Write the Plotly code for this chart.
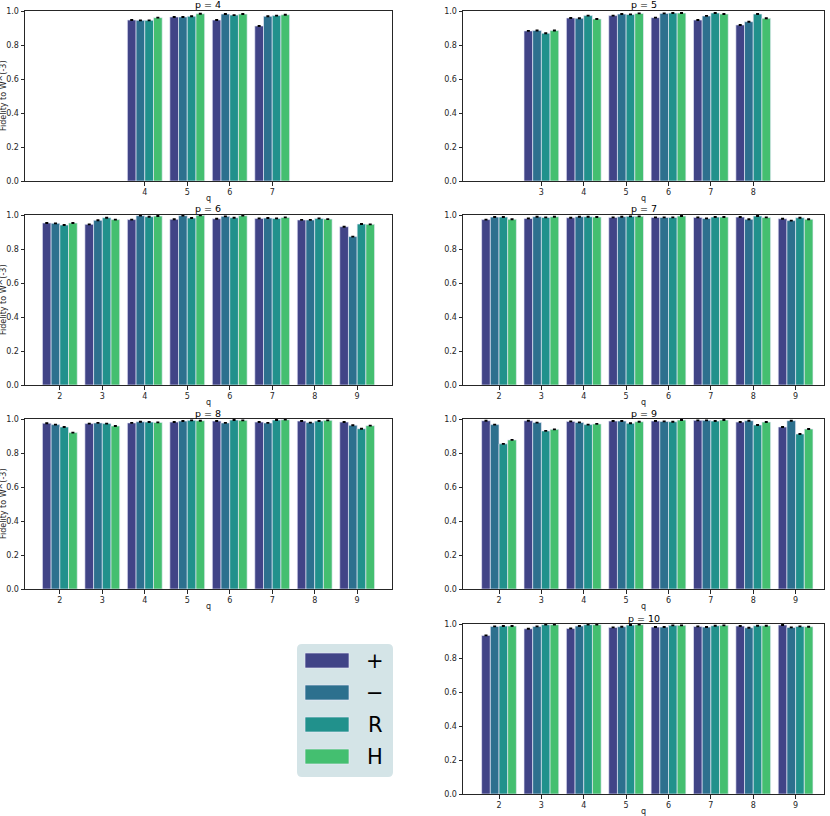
import plotly.graph_objects as go

W, H = 830, 816

# series (state prep) and colours
series = ['+', '−', 'R', 'H']
colors = ['#414487', '#2d708e', '#21918c', '#44bf70']
err = 0.002

# fidelity per panel, one list per series, values over q
q_p4 = [4, 5, 6, 7]
fid_p4 = [[0.947, 0.965, 0.947, 0.912],
          [0.945, 0.965, 0.982, 0.969],
          [0.945, 0.969, 0.976, 0.973],
          [0.961, 0.984, 0.982, 0.978]]

q_p5 = [3, 4, 5, 6, 7, 8]
fid_p5 = [[0.883, 0.959, 0.973, 0.961, 0.947, 0.918],
          [0.885, 0.957, 0.982, 0.986, 0.971, 0.937],
          [0.869, 0.973, 0.980, 0.988, 0.988, 0.982],
          [0.885, 0.953, 0.986, 0.988, 0.982, 0.957]]

q_all = [2, 3, 4, 5, 6, 7, 8, 9]
fid_p6 = [[0.953, 0.945, 0.973, 0.975, 0.978, 0.980, 0.971, 0.931],
          [0.951, 0.969, 0.996, 0.996, 0.992, 0.982, 0.971, 0.873],
          [0.941, 0.984, 0.990, 0.982, 0.984, 0.980, 0.980, 0.947],
          [0.953, 0.973, 0.994, 0.998, 0.996, 0.986, 0.976, 0.945]]

fid_p7 = [[0.973, 0.980, 0.984, 0.986, 0.986, 0.986, 0.988, 0.978],
          [0.988, 0.990, 0.990, 0.990, 0.986, 0.980, 0.975, 0.967],
          [0.988, 0.986, 0.990, 0.992, 0.986, 0.988, 0.994, 0.984],
          [0.975, 0.990, 0.988, 0.992, 0.994, 0.988, 0.986, 0.975]]

fid_p8 = [[0.975, 0.973, 0.977, 0.982, 0.988, 0.982, 0.988, 0.982],
          [0.967, 0.977, 0.984, 0.988, 0.977, 0.977, 0.979, 0.963],
          [0.953, 0.973, 0.982, 0.992, 0.994, 0.994, 0.988, 0.943],
          [0.920, 0.959, 0.980, 0.990, 0.992, 0.996, 0.992, 0.961]]

fid_p9 = [[0.990, 0.990, 0.986, 0.988, 0.988, 0.992, 0.982, 0.953],
          [0.967, 0.979, 0.980, 0.988, 0.986, 0.992, 0.990, 0.990],
          [0.854, 0.930, 0.967, 0.975, 0.984, 0.988, 0.965, 0.912],
          [0.877, 0.939, 0.971, 0.984, 0.994, 0.994, 0.982, 0.941]]

fid_p10 = [[0.933, 0.972, 0.974, 0.980, 0.982, 0.986, 0.988, 0.994],
           [0.986, 0.986, 0.988, 0.984, 0.982, 0.982, 0.978, 0.980],
           [0.988, 0.996, 0.996, 0.994, 0.992, 0.990, 0.990, 0.986],
           [0.988, 0.996, 0.996, 0.996, 0.992, 0.992, 0.990, 0.984]]

# (p, q values, data, column, row)
panels = [
    (4, q_p4, fid_p4, 0, 0),
    (5, q_p5, fid_p5, 1, 0),
    (6, q_all, fid_p6, 0, 1),
    (7, q_all, fid_p7, 1, 1),
    (8, q_all, fid_p8, 0, 2),
    (9, q_all, fid_p9, 1, 2),
    (10, q_all, fid_p10, 1, 3),
]

# axes boxes in pixels
col_px = [(25, 392), (463, 824)]
col_range = [[1.18, 9.82], [1.15, 9.67]]
row_top = [11, 215, 419, 624]
row_h = 170

font = 'DejaVu Sans'
dark = '#262626'

fig = go.Figure()
layout = {}
annotations = []


def note(text, x, y, size, **kw):
    # text placed in page pixels, centred on (x, y)
    annotations.append(dict(text=text, x=x / W, y=1 - y / H, xref='paper', yref='paper',
                            xanchor='center', yanchor='middle', showarrow=False,
                            font=dict(family=font, size=size, color=kw.pop('color', dark)), **kw))


for i, (p, qs, fid, c, r) in enumerate(panels):
    n = '' if i == 0 else str(i + 1)
    for s, name in enumerate(series):
        fig.add_trace(go.Bar(
            x=qs, y=fid[s], name=name, showlegend=False,
            marker=dict(color=colors[s], line=dict(color='rgba(235,235,250,0.8)', width=0.8)),
            error_y=dict(type='constant', value=err, color='black', thickness=1.2, width=1.5),
            xaxis='x' + n, yaxis='y' + n,
        ))
    x0, x1 = col_px[c]
    y0, y1 = row_top[r], row_top[r] + row_h
    axis_common = dict(showline=True, mirror=True, linecolor=dark, linewidth=1,
                       ticks='outside', ticklen=3.5, tickwidth=0.8, tickcolor=dark,
                       showgrid=False, zeroline=False, automargin=False,
                       tickfont=dict(family=font, size=8, color=dark))
    layout['xaxis' + n] = dict(axis_common, domain=[x0 / W, x1 / W], range=col_range[c],
                               tickvals=qs, anchor='y' + n)
    layout['yaxis' + n] = dict(axis_common, domain=[1 - y1 / H, 1 - y0 / H], range=[0, 1.0],
                               tickvals=[0, 0.2, 0.4, 0.6, 0.8, 1.0], tickformat='.1f',
                               anchor='x' + n)
    cx = (x0 + x1) / 2
    note(f'p = {p}', cx, y0 - 6, 9.5, color='black')
    note('q', cx, y1 + 17, 8)
    if c == 0:
        note('Fidelity to W^(-3)', 3, (y0 + y1) / 2, 8, textangle=-90)

# legend drawn as a panel of swatches
shapes = []
bx0, bx1, by0, by1, rad = 297, 393, 644, 777, 5


def px(x):
    return x / W


def py(y):
    return 1 - y / H


path = (f'M {px(bx0 + rad)},{py(by0)} L {px(bx1 - rad)},{py(by0)} '
        f'Q {px(bx1)},{py(by0)} {px(bx1)},{py(by0 + rad)} L {px(bx1)},{py(by1 - rad)} '
        f'Q {px(bx1)},{py(by1)} {px(bx1 - rad)},{py(by1)} L {px(bx0 + rad)},{py(by1)} '
        f'Q {px(bx0)},{py(by1)} {px(bx0)},{py(by1 - rad)} L {px(bx0)},{py(by0 + rad)} '
        f'Q {px(bx0)},{py(by0)} {px(bx0 + rad)},{py(by0)} Z')
shapes.append(dict(type='path', path=path, xref='paper', yref='paper',
                   fillcolor='#d4e4e7', line=dict(width=0), layer='below'))
for s, name in enumerate(series):
    yt = 653 + 32 * s
    shapes.append(dict(type='rect', xref='paper', yref='paper',
                       x0=px(305), x1=px(349), y0=py(yt + 15), y1=py(yt),
                       fillcolor=colors[s], line=dict(color='rgba(235,235,250,0.8)', width=0.8)))
    note(name, 375, yt + 7.5, 21, color='black')

fig.update_layout(
    width=W, height=H,
    margin=dict(l=0, r=0, t=0, b=0),
    paper_bgcolor='white', plot_bgcolor='white',
    barmode='group', bargap=0.18, bargroupgap=0,
    annotations=annotations, shapes=shapes,
    **layout,
)

# drop the page margin so the figure sits at the window corner
fig.write_html('out.html', config={'displayModeBar': False},
               post_script="document.body.style.margin='0';document.body.style.overflow='hidden';")
